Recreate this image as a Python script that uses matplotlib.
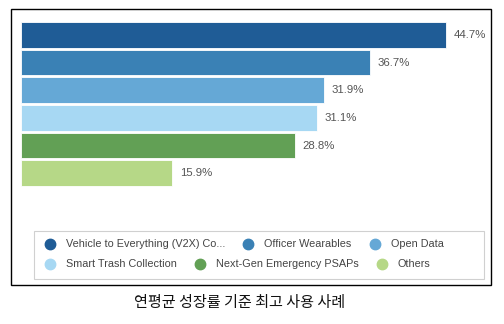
import matplotlib.pyplot as plt
from matplotlib.patches import Rectangle

# growth by use case (CAGR, %)
use_cases = ["Vehicle to Everything (V2X) Co...", "Officer Wearables", "Open Data",
             "Smart Trash Collection", "Next-Gen Emergency PSAPs", "Others"]
cagr = [44.7, 36.7, 31.9, 31.1, 28.8, 15.9]
colors = ["#1f5c96", "#3a81b5", "#65a8d6", "#a7d8f3", "#62a055", "#b6d887"]
caption = "연평균 성장률 기준 최고 사용 사례"

W, H = 504, 324
fig = plt.figure(figsize=(W / 100, H / 100), dpi=100)

def px(x, y):
    # pixel (from top-left) -> figure fraction
    return x / W, 1 - y / H

# outer frame
fig.patches.append(Rectangle(px(11, 285), 480 / W, 276 / H, transform=fig.transFigure,
                             fill=False, edgecolor="black", linewidth=1.0))

# bars
left, top, right, bottom = 21, 21, 481, 187
ax = fig.add_axes([left / W, 1 - bottom / H, (right - left) / W, (bottom - top) / H])
pos = list(range(len(cagr)))
ax.barh(pos, cagr, height=0.92, color=colors, edgecolor="white", linewidth=0.6)
ax.set_xlim(0, (right - left) / 9.51)
ax.set_ylim(5.5, -0.5)
for p, v in zip(pos, cagr):
    ax.text(v + 0.8, p, f"{v}%", va="center", ha="left", fontsize=8.2,
            family="Liberation Sans", color="#555555")
ax.axis("off")

# legend box with flowing entries
fig.patches.append(Rectangle(px(34, 279), 450 / W, 48 / H, transform=fig.transFigure,
                             fill=False, edgecolor="#d0d0d0", linewidth=0.8))
rows = [[0, 1, 2], [3, 4, 5]]
row_y = [244, 264]
fig.canvas.draw()
renderer = fig.canvas.get_renderer()
for row, y in zip(rows, row_y):
    x = 50
    for i in row:
        fig.add_artist(plt.Line2D([x / W], [1 - y / H], marker="o", markersize=7.5,
                                  color=colors[i], linestyle="none",
                                  transform=fig.transFigure))
        t = fig.text((x + 16) / W, 1 - y / H, use_cases[i], va="center", ha="left",
                     fontsize=7.8, family="Liberation Sans", color="#444444")
        w = t.get_window_extent(renderer).width
        x = x + 16 + w + 23

# caption
fig.text(240 / W, 1 - 302 / H, caption, ha="center", va="center", fontsize=10.9,
         family=["Noto Sans CJK KR", "DejaVu Sans"], color="#111111")

fig.savefig("out.png", dpi=100)
